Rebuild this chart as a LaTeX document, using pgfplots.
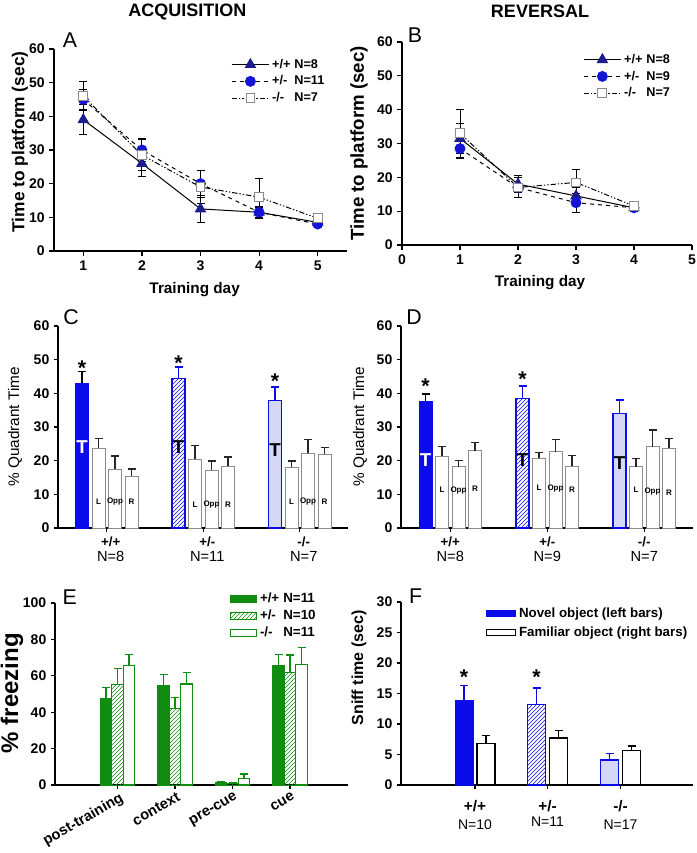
\documentclass[border=0pt]{standalone}
\usepackage{fontspec}
\setmainfont{Liberation Sans}
\usepackage{pgfplots}
\pgfplotsset{compat=1.18}
\usetikzlibrary{patterns}
\definecolor{dblue}{RGB}{12,12,235}
\definecolor{navy}{RGB}{28,28,140}
\definecolor{cblue}{RGB}{20,20,215}
\definecolor{lblue}{RGB}{212,216,246}
\definecolor{dgreen}{RGB}{16,140,16}
\definecolor{bgray}{RGB}{140,140,140}
\newcommand\fs[1]{\fontsize{#1}{#1}\selectfont}
\pgfplotsset{
 base/.style={
  scale only axis, anchor=south west, clip=false,
  axis x line*=bottom, axis y line*=left,
  axis line style={line width=0.9pt,-},
  tick align=outside, major tick length=3.5pt,
  tick style={line width=0.9pt, black},
  ticklabel style={font=\fs{10.5}\bfseries},
  /pgf/number format/assume math mode=true,
  label style={font=\fs{11.5}\bfseries},
 },
 ebar/.style={error bars/.cd, y dir=plus, y explicit,
  error bar style={#1, line width=0.9pt, solid},
  error mark options={#1, line width=0.9pt, mark size=3pt, solid, rotate=90}},
 eline/.style={error bars/.cd, y dir=both, y explicit,
  error bar style={black, line width=0.75pt, solid},
  error mark options={black, line width=0.75pt, mark size=3pt, solid, rotate=90}},
 linelegend/.style={legend style={draw=none, fill=none, font=\fs{9.5}\bfseries, cells={anchor=west}, row sep=0.2pt, inner sep=0pt},
   legend image code/.code={\draw[mark repeat=2,mark phase=2,##1] plot coordinates {(0pt,0pt) (14pt,0pt) (28pt,0pt)};}},
}
\begin{document}
\begin{tikzpicture}
\path[use as bounding box] (0,0) rectangle (522pt,639.75pt);
\node[font=\fs{13.5}\bfseries] at (140.5pt,631pt) {ACQUISITION};
\node[font=\fs{13.5}\bfseries] at (405pt,631pt) {REVERSAL};

% ---------------- A ----------------
\begin{axis}[base, at={(40.5pt,451.5pt)}, width=219.75pt, height=151.5pt,
 xmin=0.5, xmax=5.5, ymin=0, ymax=60, xtick={1,...,5}, ytick={0,10,...,60},
 xlabel={Training day}, ylabel={Time to platform (sec)},
 xlabel style={at={(axis description cs:0.48,-0.193)}, anchor=center},
 ylabel style={font=\fs{13}\bfseries, at={(axis description cs:-0.116,0.54)}, anchor=center},
 linelegend, legend style={at={(axis description cs:0.604,0.965)}, anchor=north west}]
\addplot[black, line width=0.75pt, mark=triangle*, mark size=4.3pt, mark options={solid, fill=navy, draw=navy}, eline]
 coordinates {(1,39)+-(0,4.5) (2,26)+-(0,4) (3,12.5)+-(0,4) (4,11.5)+-(0,1.5) (5,8.5)+-(0,0.5)};
\addlegendentry{\makebox[1.75em][l]{+/+}N=8}
\addplot[black, line width=0.75pt, dashed, mark=*, mark size=3.7pt, mark options={solid, fill=cblue, draw=cblue}, eline]
 coordinates {(1,45)+-(0,3) (2,30)+-(0,3.3) (3,20)+-(0,4) (4,11.5)+-(0,1.8) (5,8)+-(0,0.5)};
\addlegendentry{\makebox[1.75em][l]{+/-}N=11}
\addplot[black, line width=0.75pt, dash pattern=on 4pt off 1.5pt on 1pt off 1.5pt on 1pt off 1.5pt, mark=square*, mark size=3.3pt, mark options={solid, fill=white, draw=bgray}, eline]
 coordinates {(1,46)+-(0,4.2) (2,28.5)+-(0,4.5) (3,19)+-(0,5) (4,16)+-(0,5.5) (5,9.7)+-(0,0.8)};
\addlegendentry{\makebox[1.75em][l]{-/-}N=7}
\node[font=\fs{16}] at (axis description cs:0.055,1.045) {A};
\end{axis}

% ---------------- B ----------------
\begin{axis}[base, at={(301.5pt,456pt)}, width=217.5pt, height=152.25pt,
 xmin=0, xmax=5, ymin=0, ymax=60, xtick={0,...,5}, ytick={0,10,...,60},
 xlabel={Training day}, ylabel={Time to platform (sec)},
 xlabel style={at={(axis description cs:0.476,-0.185)}, anchor=center},
 ylabel style={font=\fs{14}\bfseries, at={(axis description cs:-0.148,0.5)}, anchor=center},
 linelegend, legend style={at={(axis description cs:0.624,0.955)}, anchor=north west}]
\addplot[black, line width=0.75pt, mark=triangle*, mark size=4.3pt, mark options={solid, fill=navy, draw=navy}, eline]
 coordinates {(1,31.5)+-(0,4.5) (2,18)+-(0,2.5) (3,14.5)+-(0,2.5) (4,11)+-(0,1)};
\addlegendentry{\makebox[1.75em][l]{+/+}N=8}
\addplot[black, line width=0.75pt, dashed, mark=*, mark size=3.7pt, mark options={solid, fill=cblue, draw=cblue}, eline]
 coordinates {(1,28.5)+-(0,3) (2,17)+-(0,3) (3,12.5)+-(0,2.8) (4,11)+-(0,1)};
\addlegendentry{\makebox[1.75em][l]{+/-}N=9}
\addplot[black, line width=0.75pt, dash pattern=on 4pt off 1.5pt on 1pt off 1.5pt on 1pt off 1.5pt, mark=square*, mark size=3.3pt, mark options={solid, fill=white, draw=bgray}, eline]
 coordinates {(1,33)+-(0,7) (2,17)+-(0,3) (3,18.5)+-(0,3.8) (4,11.5)+-(0,1.5)};
\addlegendentry{\makebox[1.75em][l]{-/-}N=7}
\node[font=\fs{16}] at (axis description cs:0.045,1.034) {B};
\end{axis}

% ---------------- C ----------------
\begin{axis}[base, at={(43.5pt,243.75pt)}, width=217.5pt, height=151.5pt,
 xmin=0, xmax=290, ymin=0, ymax=60, ytick={0,10,...,60},
 xtick={48.75,145.25,241.75}, major tick length=3pt,
 xticklabels={{{\fs{10}\bfseries +/+}\\[1pt]{\fs{11}\mdseries N=8}},{{\fs{10}\bfseries +/-}\\[1pt]{\fs{11}\mdseries N=11}},{{\fs{10}\bfseries -/-}\\[1pt]{\fs{11}\mdseries N=7}}},
 xticklabel style={align=center, xshift=3pt},
 ylabel={\% Quadrant Time},
 ylabel style={font=\fs{11.5}, at={(axis description cs:-0.148,0.5)}, anchor=center}]
\addplot[ybar, bar width=13, bar shift=0pt, fill=dblue, draw=dblue, ebar=black] coordinates {(24,43.1)+-(0,3.5)};
\addplot[ybar, bar width=13, bar shift=0pt, pattern=north east lines, pattern color=dblue, draw=dblue, line width=0.8pt, ebar=dblue] coordinates {(120.5,44.3)+-(0,3.5)};
\addplot[ybar, bar width=13, bar shift=0pt, fill=lblue, draw=dblue, line width=0.8pt, ebar=dblue] coordinates {(217,38)+-(0,3.9)};
\addplot[ybar, bar width=13, bar shift=0pt, fill=white, draw=bgray, line width=0.5pt, ebar=black!85] coordinates {
 (40.5,23.8)+-(0,2.9) (57,17.5)+-(0,3.9) (73.5,15.4)+-(0,2.1)
 (137,20.5)+-(0,3.9) (153.5,17.2)+-(0,2.7) (170,18.4)+-(0,2.7)
 (233.5,18.1)+-(0,1.8) (250,22.3)+-(0,4.1) (266.5,22)+-(0,1.8)};
\node[font=\fs{14}\bfseries, white] at (axis cs:24,24) {T};
\node[font=\fs{14}\bfseries] at (axis cs:120.5,24) {T};
\node[font=\fs{14}\bfseries] at (axis cs:217,23.2) {T};
\node[font=\fs{6}\bfseries] at (axis cs:40.5,7.7) {L};
\node[font=\fs{6}\bfseries] at (axis cs:57,8) {Opp};
\node[font=\fs{6}\bfseries] at (axis cs:73.5,7.7) {R};
\node[font=\fs{6}\bfseries] at (axis cs:137,6.8) {L};
\node[font=\fs{6}\bfseries] at (axis cs:153.5,7.1) {Opp};
\node[font=\fs{6}\bfseries] at (axis cs:170,6.8) {R};
\node[font=\fs{6}\bfseries] at (axis cs:233.5,7.9) {L};
\node[font=\fs{6}\bfseries] at (axis cs:250,8) {Opp};
\node[font=\fs{6}\bfseries] at (axis cs:266.5,7.9) {R};
\node[font=\fs{16}\bfseries] at (axis cs:24,47.5) {*};
\node[font=\fs{16}\bfseries] at (axis cs:120.5,49) {*};
\node[font=\fs{16}\bfseries] at (axis cs:217,43.7) {*};
\node[font=\fs{16}] at (axis description cs:0.045,1.045) {C};
\end{axis}

% ---------------- D ----------------
\begin{axis}[base, at={(300.75pt,243.75pt)}, width=219pt, height=151.5pt,
 xmin=0, xmax=292, ymin=0, ymax=60, ytick={0,10,...,60},
 xtick={49.25,146.25,243.25}, major tick length=3pt,
 xticklabels={{{\fs{10}\bfseries +/+}\\[1pt]{\fs{11}\mdseries N=8}},{{\fs{10}\bfseries +/-}\\[1pt]{\fs{11}\mdseries N=9}},{{\fs{10}\bfseries -/-}\\[1pt]{\fs{11}\mdseries N=7}}},
 xticklabel style={align=center},
 ylabel={\% Quadrant Time},
 ylabel style={font=\fs{11.5}, at={(axis description cs:-0.14,0.5)}, anchor=center}]
\addplot[ybar, bar width=13, bar shift=0pt, fill=dblue, draw=dblue, ebar=black] coordinates {(24.5,37.5)+-(0,2.3)};
\addplot[ybar, bar width=13, bar shift=0pt, pattern=north east lines, pattern color=dblue, draw=dblue, line width=0.8pt, ebar=dblue] coordinates {(121.5,38.5)+-(0,3.7)};
\addplot[ybar, bar width=13, bar shift=0pt, fill=lblue, draw=dblue, line width=0.8pt, ebar=dblue] coordinates {(218.5,33.9)+-(0,4.1)};
\addplot[ybar, bar width=13, bar shift=0pt, fill=white, draw=bgray, line width=0.5pt, ebar=black!85] coordinates {
 (41,21.4)+-(0,2.8) (57.5,18.2)+-(0,1.8) (74,23)+-(0,2.4)
 (138,20.7)+-(0,1.8) (154.5,22.7)+-(0,3.6) (171,18.4)+-(0,3.1)
 (235,18.2)+-(0,2.5) (251.5,24.2)+-(0,4.9) (268,23.7)+-(0,2.9)};
\node[font=\fs{14}\bfseries, white] at (axis cs:24.5,20.2) {T};
\node[font=\fs{14}\bfseries] at (axis cs:121.5,20.2) {T};
\node[font=\fs{14}\bfseries] at (axis cs:218.5,19.3) {T};
\node[font=\fs{6}\bfseries] at (axis cs:41,11.3) {L};
\node[font=\fs{6}\bfseries] at (axis cs:57.5,11) {Opp};
\node[font=\fs{6}\bfseries] at (axis cs:74,11.6) {R};
\node[font=\fs{6}\bfseries] at (axis cs:138,12) {L};
\node[font=\fs{6}\bfseries] at (axis cs:154.5,11.6) {Opp};
\node[font=\fs{6}\bfseries] at (axis cs:171,11.3) {R};
\node[font=\fs{6}\bfseries] at (axis cs:235,11.3) {L};
\node[font=\fs{6}\bfseries] at (axis cs:251.5,10.8) {Opp};
\node[font=\fs{6}\bfseries] at (axis cs:268,10.6) {R};
\node[font=\fs{16}\bfseries] at (axis cs:24.5,42.2) {*};
\node[font=\fs{16}\bfseries] at (axis cs:121.5,44.3) {*};
\node[font=\fs{16}] at (axis description cs:0.045,1.045) {D};
\end{axis}

% ---------------- E ----------------
\begin{axis}[base, at={(41.25pt,51pt)}, width=219.75pt, height=136.5pt,
 xmin=0, xmax=293, ymin=0, ymax=100, ytick={0,20,...,100},
 xtick={62.5,120,177.5,235}, major tick length=3pt,
 xticklabels={post-training,context,pre-cue,cue},
 xticklabel style={rotate=30, anchor=north east, font=\fs{11}\bfseries, xshift=2pt, inner sep=2pt},
 ylabel={\% freezing},
 ylabel style={font=\fs{18}\bfseries, at={(axis description cs:-0.147,0.505)}, anchor=center},
 legend style={draw=none, fill=none, font=\fs{10}\bfseries, cells={anchor=west}, row sep=0pt, inner sep=0pt, at={(axis description cs:0.595,1.07)}, anchor=north west},
 legend image code/.code={\draw[#1, line width=0.8pt] (0pt,-2.3pt) rectangle (20pt,2.3pt);}]
\addplot[ybar, bar width=11.5, bar shift=0pt, fill=dgreen, draw=dgreen, line width=0.6pt, ebar=dgreen] coordinates {
 (51,47.6)+-(0,6.1) (108.5,54.6)+-(0,6.2) (166,1.5)+-(0,0.4) (223.5,65.5)+-(0,6.3)};
\addlegendentry{\makebox[1.75em][l]{+/+}N=11}
\addplot[ybar, bar width=11.5, bar shift=0pt, pattern=north east lines, pattern color=dgreen, draw=dgreen, line width=0.6pt, ebar=dgreen] coordinates {
 (62.5,55.3)+-(0,8.6) (120,42.1)+-(0,5.9) (177.5,1)+-(0,0.4) (235,61.9)+-(0,9.5)};
\addlegendentry{\makebox[1.75em][l]{+/-}N=10}
\addplot[ybar, bar width=11.5, bar shift=0pt, fill=white, draw=dgreen, line width=0.8pt, ebar=dgreen] coordinates {
 (74,65.5)+-(0,6.1) (131.5,55.5)+-(0,6.2) (189,3.5)+-(0,2.5) (246.5,66.3)+-(0,9.4)};
\addlegendentry{\makebox[1.75em][l]{-/-}N=11}
\node[font=\fs{16}] at (axis description cs:0.05,1.033) {E};
\end{axis}

% ---------------- F ----------------
\begin{axis}[base, at={(300.75pt,51pt)}, width=219pt, height=137.25pt,
 xmin=0, xmax=292, ymin=0, ymax=30, ytick={0,5,...,30},
 xtick={74,146.5,219.5}, major tick length=3pt,
 xticklabels={{{\fs{11.5}\bfseries +/+}\\[3pt]{\fs{10.5}\mdseries N=10}},{{\fs{11.5}\bfseries +/-}\\[1pt]{\fs{10.5}\mdseries N=11}},{{\fs{11.5}\bfseries -/-}\\[3pt]{\fs{10.5}\mdseries N=17}}},
 xticklabel style={align=center, yshift=-5pt},
 ylabel={Sniff time (sec)},
 ylabel style={font=\fs{12}\bfseries, at={(axis description cs:-0.144,0.64)}, anchor=center},
 legend style={draw=none, fill=none, font=\fs{10}\bfseries, cells={anchor=west}, row sep=1.5pt, inner sep=0pt, at={(axis description cs:0.29,0.985)}, anchor=north west},
 legend image code/.code={\draw[#1, line width=0.8pt] (0pt,-2.3pt) rectangle (22pt,2.3pt);}]
\addplot[ybar, bar width=18, bar shift=0pt, fill=dblue, draw=dblue, line width=0.6pt, ebar=dblue] coordinates {(63,13.9)+-(0,2.4)};
\addlegendentry{Novel object (left bars)}
\addplot[ybar, bar width=18, bar shift=0pt, fill=white, draw=black, line width=0.9pt, ebar=black] coordinates {(85,6.8)+-(0,1.3) (157.5,7.7)+-(0,1.2) (230.5,5.6)+-(0,0.8)};
\addlegendentry{Familiar object (right bars)}
\addplot[forget plot, ybar, bar width=18, bar shift=0pt, pattern=north east lines, pattern color=dblue, draw=dblue, line width=0.8pt, ebar=dblue] coordinates {(135.5,13.2)+-(0,2.7)};
\addplot[forget plot, ybar, bar width=18, bar shift=0pt, fill=lblue, draw=dblue, line width=0.8pt, ebar=dblue] coordinates {(208.5,4.1)+-(0,1)};
\node[font=\fs{16}\bfseries] at (axis cs:63,17.6) {*};
\node[font=\fs{16}\bfseries] at (axis cs:135.5,17.6) {*};
\node[font=\fs{16}] at (axis description cs:0.05,1.033) {F};
\end{axis}
\end{tikzpicture}
\end{document}
